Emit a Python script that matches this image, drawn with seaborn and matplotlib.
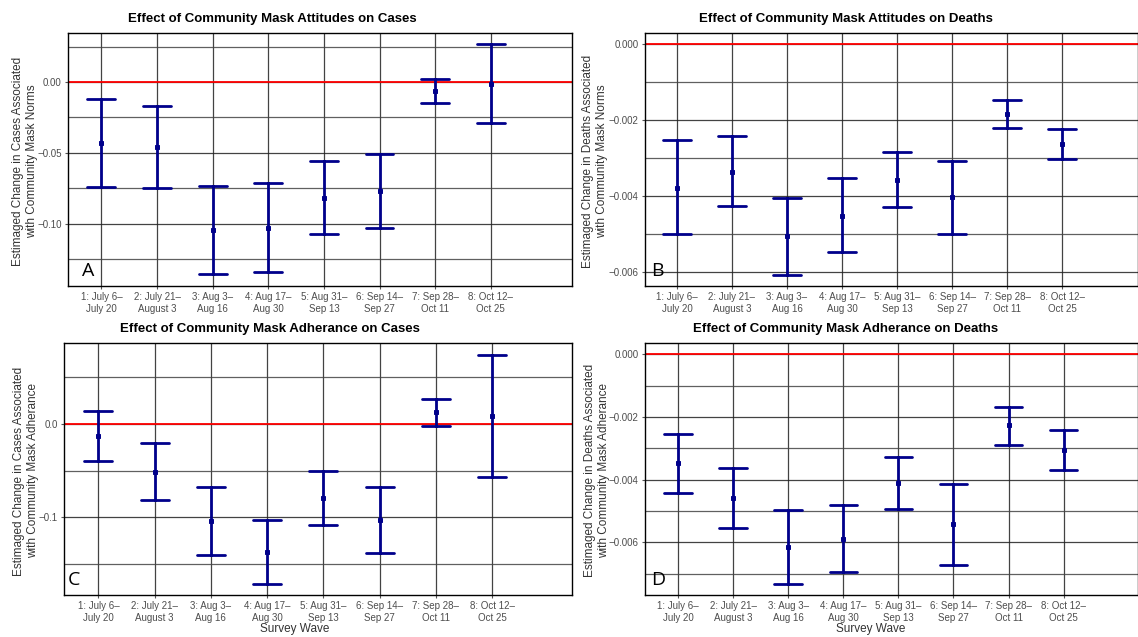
import numpy as np
import pandas as pd
import matplotlib
matplotlib.use("Agg")
import matplotlib.pyplot as plt
import seaborn as sns
from matplotlib.ticker import MultipleLocator, FixedLocator

waves = ["1: July 6\u2013\nJuly 20", "2: July 21\u2013\nAugust 3", "3: Aug 3\u2013\nAug 16",
         "4: Aug 17\u2013\nAug 30", "5: Aug 31\u2013\nSep 13", "6: Sep 14\u2013\nSep 27",
         "7: Sep 28\u2013\nOct 11", "8: Oct 12\u2013\nOct 25"]

# A: attitudes -> cases
a_est = [-0.0432, -0.0460, -0.1047, -0.1030, -0.0817, -0.0768, -0.0061, -0.0016]
a_lo = [-0.0739, -0.0751, -0.1357, -0.1343, -0.1075, -0.1030, -0.0148, -0.0286]
a_hi = [-0.0122, -0.0171, -0.0735, -0.0716, -0.0559, -0.0505, 0.0023, 0.0265]

# B: attitudes -> deaths
b_est = [-0.00378, -0.00336, -0.00507, -0.00452, -0.00358, -0.00404, -0.00184, -0.00263]
b_lo = [-0.00502, -0.00428, -0.00608, -0.00549, -0.00430, -0.00502, -0.00220, -0.00302]
b_hi = [-0.00253, -0.00242, -0.00405, -0.00353, -0.00285, -0.00307, -0.00147, -0.00223]

# C: adherence -> cases
c_est = [-0.0135, -0.0514, -0.1035, -0.1369, -0.0794, -0.1028, 0.0121, 0.0085]
c_lo = [-0.0404, -0.0816, -0.1397, -0.1709, -0.1085, -0.1383, -0.0021, -0.0564]
c_hi = [0.0131, -0.0209, -0.0677, -0.1028, -0.0507, -0.0674, 0.0262, 0.0734]

# D: adherence -> deaths
d_est = [-0.00347, -0.00457, -0.00615, -0.00589, -0.00412, -0.00543, -0.00227, -0.00305]
d_lo = [-0.00441, -0.00553, -0.00733, -0.00696, -0.00494, -0.00671, -0.00288, -0.00369]
d_hi = [-0.00255, -0.00362, -0.00497, -0.00480, -0.00329, -0.00413, -0.00168, -0.00242]

sns.set_theme(style="white")
plt.rcParams["font.family"] = ["Liberation Sans", "DejaVu Sans"]

fig = plt.figure(figsize=(11.38, 6.37), dpi=100)

W, H = 1138, 637


def px_axes(l, r, t, b):
    return fig.add_axes([l / W, 1 - b / H, (r - l) / W, (b - t) / H])


panels = [
    dict(est=a_est, lo=a_lo, hi=a_hi, box=(68, 572, 33, 286), ylim=(-0.144, 0.0346),
         major=0.05, minor=0.025, fmt="{:.2f}", letter="A", lx=(82 - 68) / 504,
         title="Effect of Community Mask Attitudes on Cases", tx=272, ty=19,
         ylab="Estimaged Change in Cases Associated\nwith Community Mask Norms", yx=25, yy=161,
         xlim=(-0.6, 8.46)),
    dict(est=b_est, lo=b_lo, hi=b_hi, box=(645, 1138, 33, 286), ylim=(-0.00638, 0.0003),
         major=0.002, minor=0.001, fmt="{:.3f}", letter="B", lx=0.012,
         title="Effect of Community Mask Attitudes on Deaths", tx=846, ty=19,
         ylab="Estimaged Change in Deaths Associated\nwith Community Mask Norms", yx=595, yy=161,
         xlim=(-0.58, 8.38)),
    dict(est=c_est, lo=c_lo, hi=c_hi, box=(64, 572, 343, 595), ylim=(-0.1826, 0.0858),
         major=0.1, minor=0.05, fmt="{:.1f}", letter="C", lx=0.008,
         title="Effect of Community Mask Adherance on Cases", tx=270, ty=329,
         ylab="Estimaged Change in Cases Associated\nwith Community Mask Adherance", yx=26, yy=471,
         xlim=(-0.61, 8.42), xlab=295),
    dict(est=d_est, lo=d_lo, hi=d_hi, box=(645, 1138, 343, 595), ylim=(-0.00768, 0.00036),
         major=0.002, minor=0.001, fmt="{:.3f}", letter="D", lx=0.012,
         title="Effect of Community Mask Adherance on Deaths", tx=846, ty=329,
         ylab="Estimaged Change in Deaths Associated\nwith Community Mask Adherance", yx=597, yy=470,
         xlim=(-0.6, 8.35), xlab=871),
]

for p in panels:
    ax = px_axes(*p["box"])
    # long table: low / estimate / high per wave; median = estimate, full range = interval
    df = pd.DataFrame({
        "wave": waves * 3,
        "value": list(p["lo"]) + list(p["est"]) + list(p["hi"]),
    })
    ax.axhline(0, color="red", linewidth=1.3, zorder=1.5)
    sns.pointplot(data=df, x="wave", y="value", order=waves, estimator="median",
                  errorbar=("pi", 100), capsize=0.5, linestyle="none", marker="s",
                  color="#00008B", err_kws={"linewidth": 2.0}, ax=ax)
    # smaller estimate markers, drawn on top of the bars
    for ln in ax.lines:
        if ln.get_marker() == "s":
            ln.set_markersize(3)
            ln.set_markeredgewidth(0.7)
            ln.set_zorder(5)
    ax.set_xlim(*p["xlim"])
    ax.set_ylim(*p["ylim"])
    ax.yaxis.set_major_locator(MultipleLocator(p["major"]))
    ax.yaxis.set_minor_locator(MultipleLocator(p["minor"]))
    ticks = [t for t in ax.get_yticks() if p["ylim"][0] <= t <= p["ylim"][1]]
    ax.yaxis.set_major_locator(FixedLocator(ticks))
    ax.set_yticklabels([p["fmt"].format(t).replace("-", "\u2212") if abs(t) > 1e-12
                        else p["fmt"].format(0) for t in ticks])
    ax.set_axisbelow(True)
    ax.grid(True, which="major", axis="both", color="#222222", linewidth=0.9, alpha=0.85)
    ax.grid(True, which="minor", axis="y", color="#444444", linewidth=0.9, alpha=0.85)
    ax.tick_params(axis="both", which="major", labelsize=7, labelcolor="#4d4d4d",
                   length=2.5, width=0.8, color="#555555", bottom=True, left=True, pad=2)
    ax.tick_params(axis="y", which="minor", length=0)
    for s in ax.spines.values():
        s.set_color("black")
        s.set_linewidth(1.0)
    ax.set_xlabel("")
    ax.set_ylabel("")
    ax.text(p["lx"], 0.04, p["letter"], transform=ax.transAxes, fontsize=14,
            family=["Open Sans", "DejaVu Sans"], color="black", ha="left", va="baseline")
    fig.text(p["tx"] / W, 1 - p["ty"] / H, p["title"], ha="center", va="center",
             fontsize=9.5, fontweight="bold", color="black")
    fig.text(p["yx"] / W, 1 - p["yy"] / H, p["ylab"], ha="center", va="center",
             rotation=90, fontsize=8.5, color="#333333", linespacing=1.15)
    if "xlab" in p:
        fig.text(p["xlab"] / W, 1 - 629 / H, "Survey Wave", ha="center", va="center",
                 fontsize=8.5, color="#333333")

fig.savefig("out.png", dpi=100)
